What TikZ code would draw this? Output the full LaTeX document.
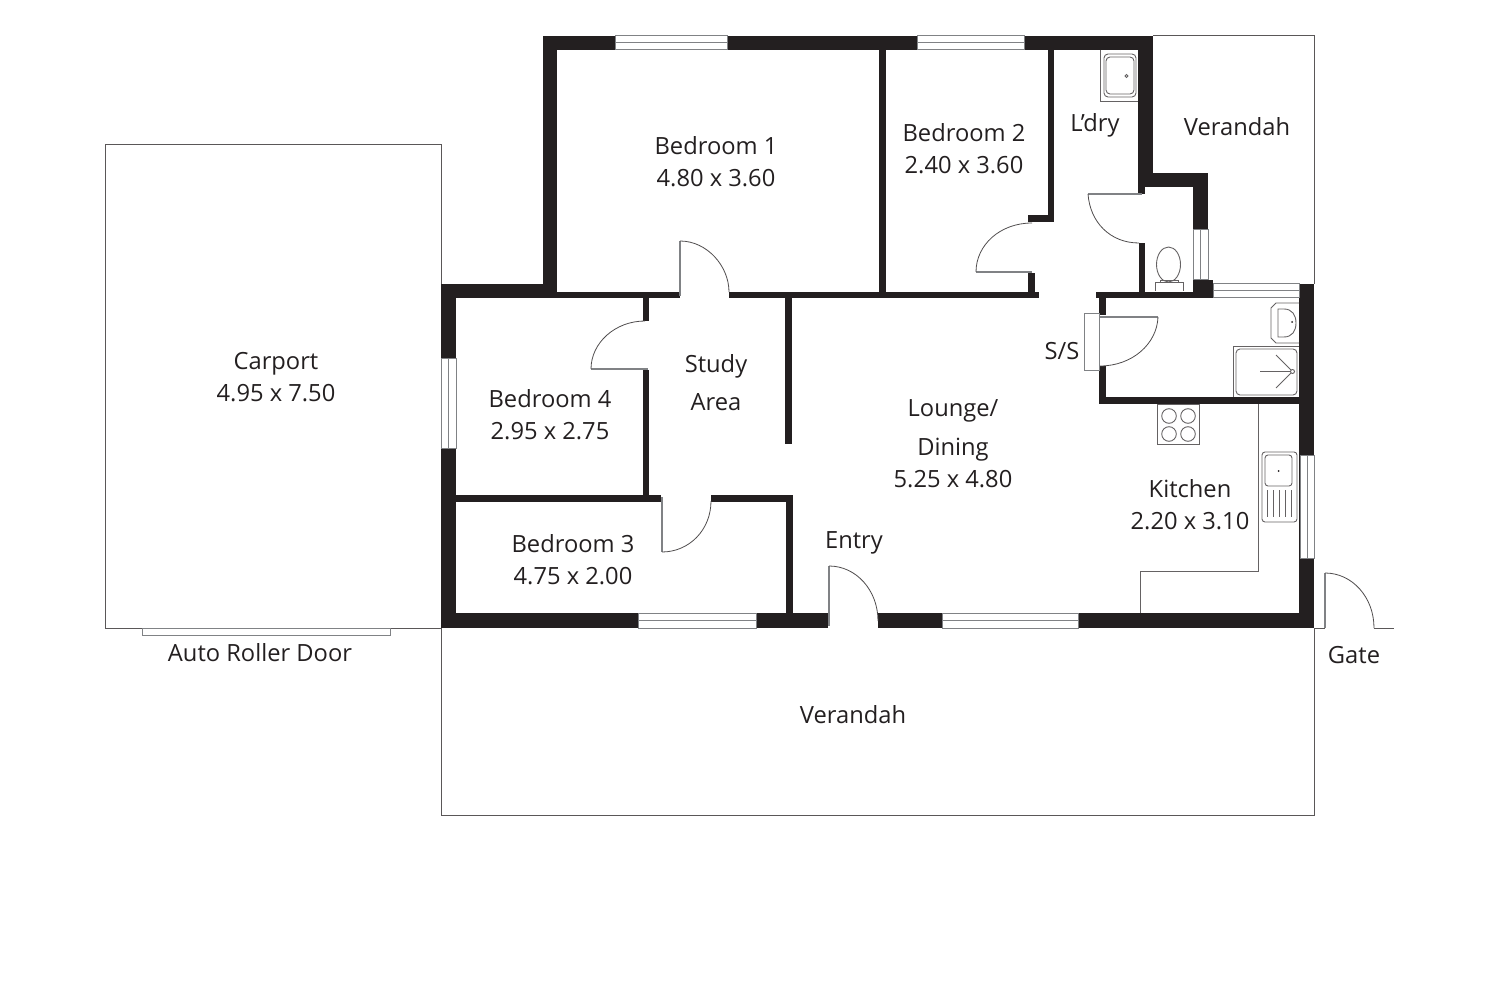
\documentclass[tikz,border=0pt]{standalone}
\usepackage{fontspec}
\setmainfont{Open Sans}
\definecolor{wallblack}{HTML}{231F20}
\definecolor{linegray}{HTML}{808285}
\tikzset{
  wall/.style={fill=wallblack},
  outline/.style={draw=wallblack!75, line width=1pt},
  window/.style={draw=linegray, line width=1pt, fill=white},
  leaf/.style={draw=linegray, line width=1.6pt},
  swing/.style={draw=wallblack!80, line width=0.8pt},
  fixture/.style={draw=wallblack!70, line width=0.9pt},
  roomlabel/.style={text=wallblack, align=center, font=\fontsize{23.7}{32}\selectfont}
}
\begin{document}
\begin{tikzpicture}[x=1pt, y=-1pt]
\useasboundingbox (0,0) rectangle (1500,1000);

% carport and verandahs
\draw[outline] (441.5,284) -- (441.5,144.5) -- (105.5,144.5) -- (105.5,628) -- (441.5,628);
\draw[outline] (441.5,628) -- (441.5,815) -- (1314,815) -- (1314,628);
\draw[outline] (1153,36) -- (1314,36) -- (1314,284);
\draw[window] (142,628) rectangle (390,635);

% outer walls
\fill[wall] (543,36) rectangle (1153,50);
\fill[wall] (543,36) rectangle (557,298);
\fill[wall] (441,284) rectangle (557,298);
\fill[wall] (441,284) rectangle (456,628);
\fill[wall] (441,613) rectangle (828,628);
\fill[wall] (878,613) rectangle (1314,628);
\fill[wall] (1299,284) rectangle (1314,628);
\fill[wall] (1138,36) rectangle (1153,187);
\fill[wall] (1138,173) rectangle (1208,187);
\fill[wall] (1138,187) rectangle (1145,194);
\fill[wall] (1193,173) rectangle (1208,298);
\fill[wall] (1193,280) rectangle (1213,298);

% inner walls
\fill[wall] (557,292) rectangle (680,298);
\fill[wall] (729,292) rectangle (1039,298);
\fill[wall] (879,50) rectangle (886,292);
\fill[wall] (1048,50) rectangle (1054,222);
\fill[wall] (1028,215) rectangle (1054,222);
\fill[wall] (1028,273) rectangle (1035,292);
\fill[wall] (1139,243) rectangle (1145,292);
\fill[wall] (1096,292) rectangle (1213,298);
\fill[wall] (1099,292) rectangle (1106,315);
\fill[wall] (1099,366) rectangle (1106,404);
\fill[wall] (1099,397) rectangle (1299,404);
\fill[wall] (643,298) rectangle (649,321);
\fill[wall] (643,370) rectangle (649,495);
\fill[wall] (456,495) rectangle (661,502);
\fill[wall] (711,495) rectangle (793,501.5);
\fill[wall] (786,495) rectangle (793,613);
\fill[wall] (785,298) rectangle (792,444);

% windows
\foreach \xa/\xb/\ya/\yb in {615/727/36/50, 917/1024/36/50, 638/756/613/628, 942/1078/613/628, 1213/1299/284/298}
  \draw[window] (\xa,\ya) rectangle (\xb,\yb) (\xa,{(\ya+\yb)/2}) -- (\xb,{(\ya+\yb)/2});
\foreach \xa/\xb/\ya/\yb in {441/456/359/448, 1193/1208/230/280, 1300/1314/455/558}
  \draw[window] (\xa,\ya) rectangle (\xb,\yb) ({(\xa+\xb)/2},\ya) -- ({(\xa+\xb)/2},\yb);

% doors
\draw[leaf] (976,272) -- (1032,272);
\draw[swing] (976,272) .. controls (976,245) and (1000,223) .. (1032,223);
\draw[leaf] (1088,194) -- (1142,194);
\draw[swing] (1088,194) .. controls (1090,222) and (1110,243) .. (1139,243);
\draw[leaf] (1100,317) -- (1158,317);
\draw[swing] (1158,317) .. controls (1157,344) and (1132,366) .. (1100,366);
\draw[leaf] (680,241) -- (680,296);
\draw[swing] (680,241) .. controls (707,241) and (729,266) .. (729,292);
\draw[leaf] (591,369) -- (648,369);
\draw[swing] (591,369) .. controls (591,343) and (615,321) .. (645,321);
\draw[leaf] (662,497) -- (662,552);
\draw[swing] (662,552) .. controls (689,552) and (711,530) .. (711,501);
\draw[leaf] (829,566) -- (829,626);
\draw[swing] (829,566) .. controls (856,566) and (878,590) .. (878,621);
\draw[leaf] (1325,573) -- (1325,628);
\draw[swing] (1325,573) .. controls (1352,573) and (1374,597) .. (1374,628);
\draw[outline] (1314,628) -- (1325,628) (1374,628) -- (1394,628);

% service door
\draw[window, fill=none] (1099,314) -- (1084,314) -- (1084,371) -- (1099,371) -- cycle;

% laundry trough
\draw[fixture] (1100,50) -- (1100,101) -- (1138,101);
\draw[fixture, rounded corners=4pt] (1104,54) rectangle (1136,97);
\draw[fixture, rounded corners=4pt] (1106,57) rectangle (1134,94);
\draw[fixture] (1126.5,76) circle (1.5);

% toilet
\draw[fixture] (1168.5,264.5) ellipse (12 and 17.5);
\draw[fixture] (1155,291) -- (1155,282) -- (1183,282) -- (1183,291);
\draw[fixture] (1160,282) -- (1160,280) -- (1178,280) -- (1178,282);

% basin
\draw[fixture] (1299,303) -- (1276,303) -- (1271,308) -- (1271,338) -- (1276,343) -- (1299,343);
\draw[fixture] (1278,309) -- (1284,309) .. controls (1292,309) and (1296,315) .. (1296,323) .. controls (1296,331) and (1292,337) .. (1284,337) -- (1278,337) -- cycle;
\fill[wallblack] (1292,322) circle (1);

% shower
\draw[fixture] (1233,397) -- (1233,346) -- (1299,346);
\draw[fixture, rounded corners=4pt] (1236,349) rectangle (1297,395);
\draw[fixture] (1292.5,371.5) circle (2);
\draw[fixture] (1260,371.5) -- (1290,371.5);
\draw[fixture] (1276,355) -- (1291,370);
\draw[fixture] (1276,388) -- (1291,373);

% cooktop
\draw[fixture] (1157,404) rectangle (1199,444);
\foreach \cx in {1169,1188}
  \foreach \cy in {416,434}
    \draw[fixture] (\cx,\cy) circle (7.3);

% kitchen bench and sink
\draw[fixture] (1258,404) -- (1258,571) -- (1140,571) -- (1140,613);
\draw[fixture, rounded corners=3pt] (1262,452) rectangle (1297,522);
\draw[fixture, rounded corners=3pt] (1265,455) rectangle (1292,486);
\fill[wallblack] (1278.5,471) circle (1);
\foreach \dx in {1267,1273,1279,1285,1291}
  \draw[fixture] (\dx,490) -- (\dx,517);

% labels
\node[roomlabel] (bedone) at (716,162) {Bedroom 1\\4.80 x 3.60};
\node[roomlabel] (bedtwo) at (964,149) {Bedroom 2\\2.40 x 3.60};
\node[roomlabel] (bedthree) at (573,560) {Bedroom 3\\4.75 x 2.00};
\node[roomlabel] (bedfour) at (550,415) {Bedroom 4\\2.95 x 2.75};
\node[roomlabel] (laundry) at (1095,125.5) {L’dry};
\node[roomlabel] (verandahtop) at (1237,127) {Verandah};
\node[roomlabel] (carport) at (276,377) {Carport\\4.95 x 7.50};
\node[roomlabel] (study) at (716,383) {Study\\[6pt]Area};
\node[roomlabel] (lounge) at (953,444) {Lounge/\\[7pt]Dining\\5.25 x 4.80};
\node[roomlabel] (store) at (1062,351) {S/S};
\node[roomlabel] (kitchen) at (1190,505) {Kitchen\\2.20 x 3.10};
\node[roomlabel] (entry) at (854,542.5) {Entry};
\node[roomlabel] (rollerdoor) at (260,653) {Auto Roller Door};
\node[roomlabel] (gate) at (1354,655) {Gate};
\node[roomlabel] (verandahfront) at (853,715) {Verandah};
\end{tikzpicture}
\end{document}
